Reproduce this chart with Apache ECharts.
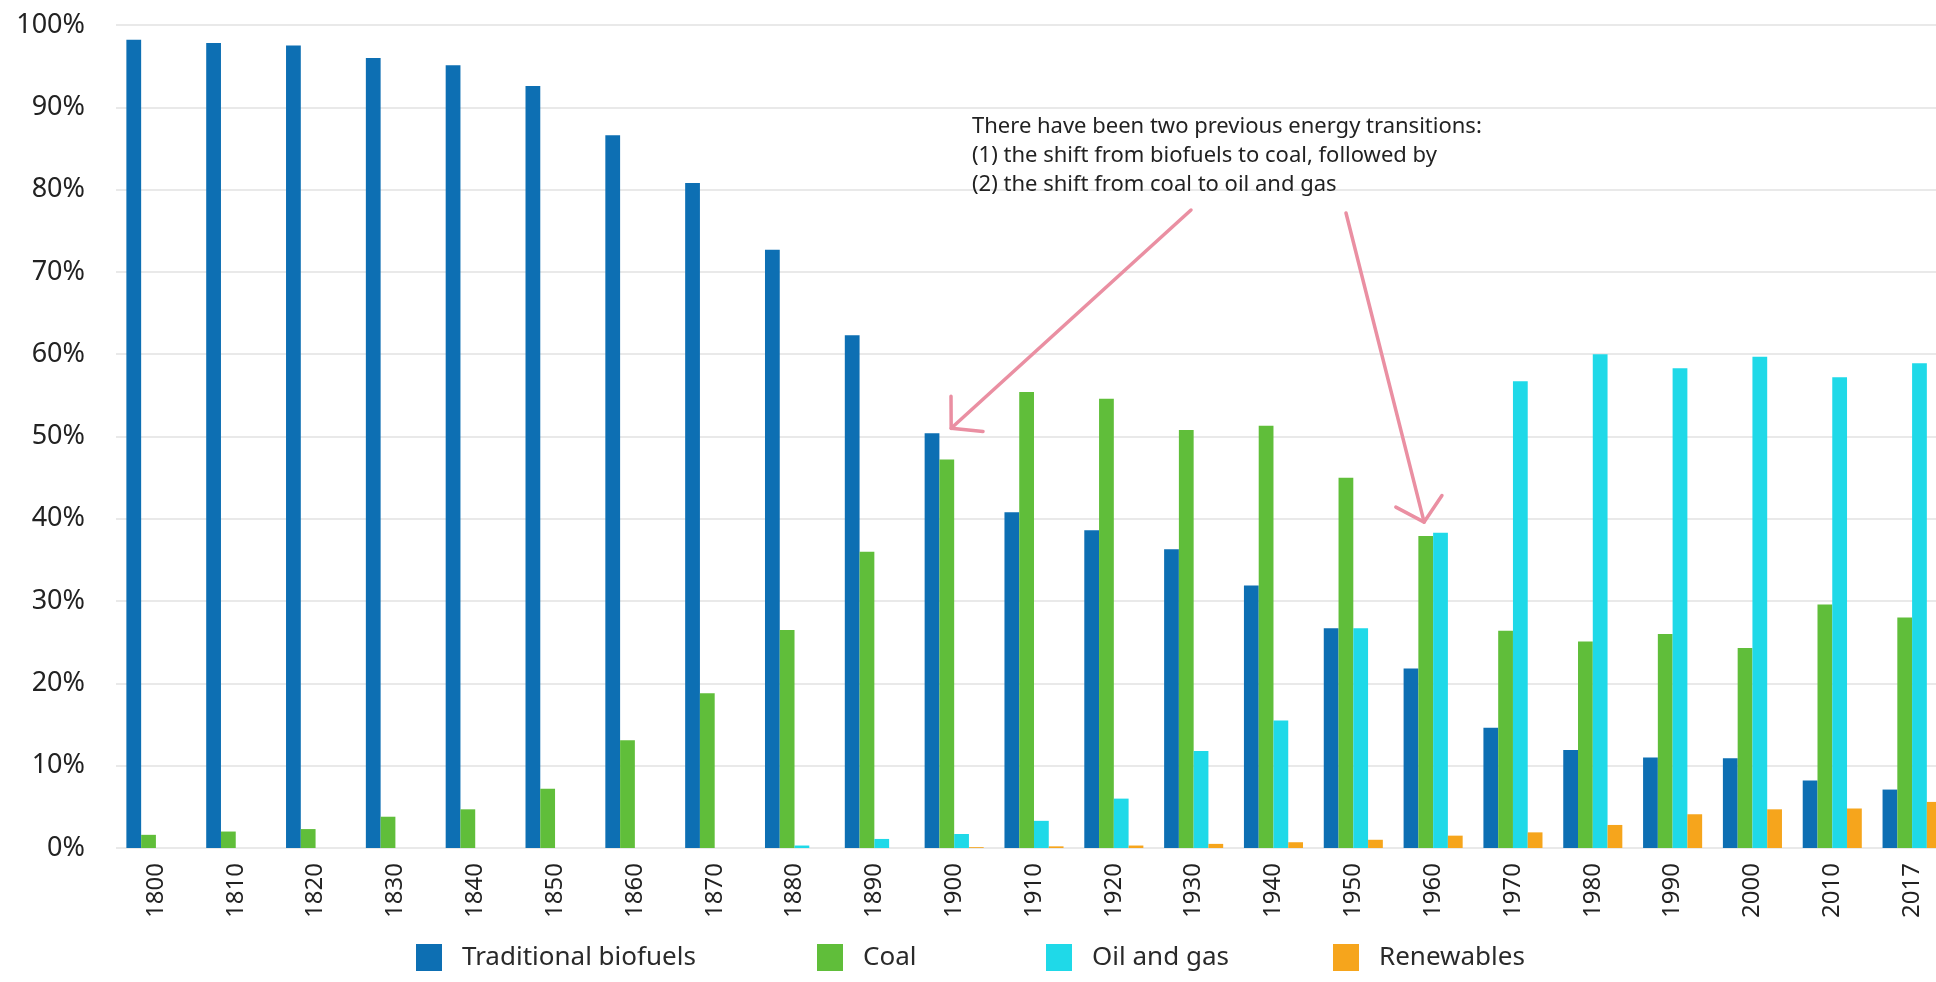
<!DOCTYPE html>
<html>
<head>
<meta charset="utf-8">
<title>Energy transitions</title>
<script src="https://cdn.jsdelivr.net/npm/echarts@6/dist/echarts.min.js"></script>
<style>
  html, body { margin: 0; padding: 0; background: #ffffff; }
  #chart { width: 1936px; height: 982px; }
</style>
</head>
<body>
<div id="chart"></div>
<script>
// Share of world primary energy by source (%)
const years = ['1800','1810','1820','1830','1840','1850','1860','1870','1880','1890','1900',
               '1910','1920','1930','1940','1950','1960','1970','1980','1990','2000','2010','2017'];
const biofuels   = [98.2, 97.8, 97.5, 96.0, 95.1, 92.6, 86.6, 80.8, 72.7, 62.3, 50.4,
                    40.8, 38.6, 36.3, 31.9, 26.7, 21.8, 14.6, 11.9, 11.0, 10.9, 8.2, 7.1];
const coal       = [1.6, 2.0, 2.3, 3.8, 4.7, 7.2, 13.1, 18.8, 26.5, 36.0, 47.2,
                    55.4, 54.6, 50.8, 51.3, 45.0, 37.9, 26.4, 25.1, 26.0, 24.3, 29.6, 28.0];
const oilGas     = [0, 0, 0, 0, 0, 0, 0, 0, 0.3, 1.1, 1.7,
                    3.3, 6.0, 11.8, 15.5, 26.7, 38.3, 56.7, 60.0, 58.3, 59.7, 57.2, 58.9];
const renewables = [0, 0, 0, 0, 0, 0, 0, 0, 0, 0, 0.1,
                    0.2, 0.3, 0.5, 0.7, 1.0, 1.5, 1.9, 2.8, 4.1, 4.7, 4.8, 5.6];
const seriesNames = ['Traditional biofuels', 'Coal', 'Oil and gas', 'Renewables'];
const yTicks = [0, 10, 20, 30, 40, 50, 60, 70, 80, 90, 100];

const noteLines = [
  'There have been two previous energy transitions:',
  '(1) the shift from biofuels to coal, followed by',
  '(2) the shift from coal to oil and gas'
];
// arrow targets: [year, share]
const arrowTargets = [['1900', 51], ['1960', 39.6]];

const colors = ['#0d6fb3', '#60be3a', '#1fd9e8', '#f6a51c'];
const FONT = '"Noto Sans", "Open Sans", sans-serif';

const chart = echarts.init(document.getElementById('chart'), null, { renderer: 'canvas' });

function barSeries(name, data, color) {
  return {
    name: name,
    type: 'bar',
    data: data,
    barGap: '0%',
    barCategoryGap: '26%',
    itemStyle: { color: color },
    emphasis: { disabled: true }
  };
}

// one legend entry per component so each sits at its own spot
const legendLefts = [411, 812, 1041, 1328];
const legends = seriesNames.map(function (name, i) {
  return {
    data: [name],
    left: legendLefts[i],
    top: 939,
    itemWidth: 26,
    itemHeight: 27,
    icon: 'rect',
    selectedMode: false,
    textStyle: { fontSize: 26, color: '#2a2a2a', fontFamily: FONT, padding: [0, 0, 0, 15] }
  };
});

chart.setOption({
  animation: false,
  backgroundColor: '#ffffff',
  textStyle: { fontFamily: FONT },
  grid: { left: 116, right: -16, top: 25, bottom: 134, containLabel: false, outerBoundsMode: 'none' },
  xAxis: {
    type: 'category',
    data: years,
    axisLine: { show: false },
    axisTick: { show: false },
    axisLabel: {
      rotate: 90,
      interval: 0,
      margin: 15,
      fontSize: 24,
      color: '#222222',
      fontFamily: FONT
    }
  },
  yAxis: {
    type: 'value',
    min: yTicks[0],
    max: yTicks[yTicks.length - 1],
    interval: 10,
    axisLine: { show: false },
    axisTick: { show: false },
    axisLabel: {
      formatter: '{value}%',
      fontSize: 27,
      margin: 31,
      color: '#222222',
      fontFamily: FONT
    },
    splitLine: { lineStyle: { color: '#e9e9e9', width: 2 } }
  },
  legend: legends,
  series: [
    barSeries(seriesNames[0], biofuels, colors[0]),
    barSeries(seriesNames[1], coal, colors[1]),
    barSeries(seriesNames[2], oilGas, colors[2]),
    barSeries(seriesNames[3], renewables, colors[3])
  ]
});

// Annotation text and arrows pointing at the two transitions
function arrow(start, tip, color) {
  const ang = Math.atan2(start[1] - tip[1], start[0] - tip[0]);
  const len = 32, spread = Math.PI * 48 / 180;
  const a = [tip[0] + len * Math.cos(ang + spread), tip[1] + len * Math.sin(ang + spread)];
  const b = [tip[0] + len * Math.cos(ang - spread), tip[1] + len * Math.sin(ang - spread)];
  const style = { stroke: color, lineWidth: 3.5, lineCap: 'round', lineJoin: 'round', fill: null };
  return [
    { type: 'line', shape: { x1: start[0], y1: start[1], x2: tip[0], y2: tip[1] }, style: style, silent: true },
    { type: 'polyline', shape: { points: [a, tip, b] }, style: style, silent: true }
  ];
}

const tip1 = chart.convertToPixel({ xAxisIndex: 0, yAxisIndex: 0 }, [years.indexOf(arrowTargets[0][0]), arrowTargets[0][1]]);
const tip2 = chart.convertToPixel({ xAxisIndex: 0, yAxisIndex: 0 }, [years.indexOf(arrowTargets[1][0]), arrowTargets[1][1]]);
tip1[0] -= 3;
tip2[0] -= 9;

const pink = '#ea8fa2';
chart.setOption({
  graphic: [
    {
      type: 'text',
      left: 972,
      top: 112,
      silent: true,
      style: {
        text: noteLines.join('\n'),
        font: '22px ' + FONT,
        fill: '#222222',
        lineHeight: 29
      }
    }
  ].concat(arrow([1191, 210], tip1, pink)).concat(arrow([1346, 213], tip2, pink))
});
</script>
</body>
</html>
